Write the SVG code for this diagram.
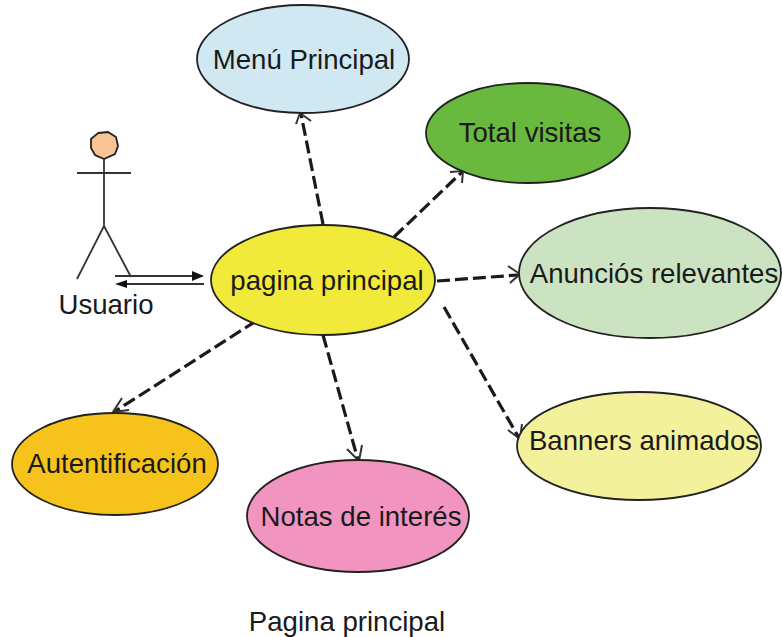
<svg xmlns="http://www.w3.org/2000/svg" width="782" height="637" viewBox="0 0 782 637">
<style>
text{font-family:"Liberation Sans",Arial,sans-serif;font-size:27.6px;fill:#1a1a1a;text-anchor:middle}
.n{stroke:#222;stroke-width:1.8}
.d{fill:none;stroke:#1a1a1a;stroke-width:3.2;stroke-dasharray:13 5}
.t{fill:none;stroke:#333;stroke-width:2}
.s{fill:none;stroke:#333;stroke-width:1.8}
.h{fill:#111}
</style>
<rect width="782" height="637" fill="#fff"/>
<g id="connectors">
<path class="d" d="M323 224L301 114"/><path class="t" d="M296 124L300 113L311 121"/>
<path class="d" d="M394 237L462 172"/><path class="t" d="M450 172L463 171L462 183"/>
<path class="d" d="M437 281L518 275"/><path class="t" d="M508 266L520 274L510 283"/>
<path class="d" d="M444 307L519 438"/><path class="t" d="M508 430L520 439L522 424"/>
<path class="d" d="M323 335L358 460"/><path class="t" d="M347 449L359 461L362 445"/>
<path class="d" d="M256 321L114 412"/><path class="t" d="M122 398L113 412L129 410"/>
<path class="s" d="M115 276H192"/><polygon class="h" points="192,271 204,276 192,281"/>
<path class="s" d="M204 284H126"/><polygon class="h" points="127,280 115,284 127,288"/>
</g>
<g id="usuario">
<polygon points="98,133 108,132 116,137 118,146 115,154 104,159 95,155 91,148 91,139" fill="#f8c493" class="n"/>
<path class="s" d="M104 159V226M77 173H131M104 226L77 279M104 226L131 277"/>
<text x="106" y="314">Usuario</text>
</g>
<g id="menu"><ellipse cx="303" cy="59" rx="106" ry="54" fill="#cfe8f2" class="n"/><text x="304" y="69">Menú Principal</text></g>
<g id="total"><ellipse cx="528" cy="133" rx="102" ry="50" fill="#68b93e" class="n"/><text x="530" y="142">Total visitas</text></g>
<g id="pagina"><ellipse cx="323" cy="280" rx="112" ry="55" fill="#f2ea3a" class="n"/><text x="327" y="290">pagina principal</text></g>
<g id="anuncios"><ellipse cx="650" cy="273" rx="131" ry="65" fill="#cbe3c1" class="n"/><text x="654" y="283">Anunciós relevantes</text></g>
<g id="banners"><ellipse cx="639" cy="446" rx="122" ry="54" fill="#f3f19c" class="n"/><text x="644" y="450">Banners animados</text></g>
<g id="autentificacion"><ellipse cx="115" cy="464" rx="103" ry="51" fill="#f6c31c" class="n"/><text x="117" y="473">Autentificación</text></g>
<g id="notas"><ellipse cx="358" cy="516" rx="111" ry="56" fill="#f294c0" class="n"/><text x="361" y="526">Notas de interés</text></g>
<text x="347" y="631">Pagina principal</text>
</svg>
